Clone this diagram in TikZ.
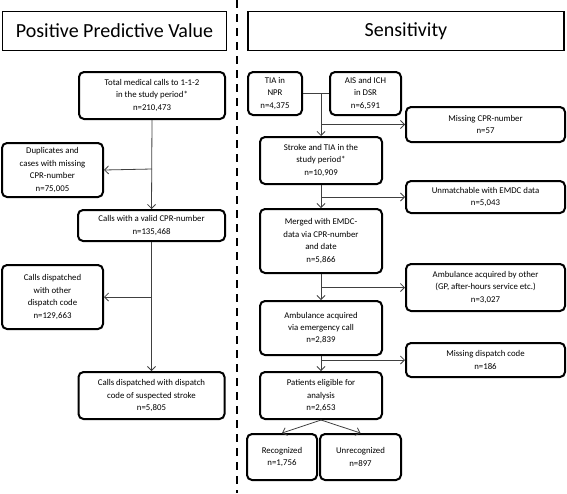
\documentclass[tikz,border=0pt]{standalone}
\usepackage{fontspec}
\setmainfont{Carlito}
\usetikzlibrary{arrows.meta}
\begin{document}
\begin{tikzpicture}[x=1pt,y=-1pt,
  box/.style={draw=black, line width=2pt, rounded corners=5pt, align=center,
    inner sep=0pt, font=\fontsize{8.8}{12.4}\selectfont},
  head/.style={draw=black, line width=1.6pt, inner sep=0pt, font=\fontsize{20}{22}\selectfont},
  conn/.style={draw=black!75, line width=0.8pt},
  arr/.style={conn, -{Straight Barb[length=4pt,width=8pt,line width=0.8pt]}}
]
\useasboundingbox (0,0) rectangle (567,493);
% dashed divider
\draw[line width=2.2pt, dash pattern=on 8pt off 6pt] (237,0) -- (237,493);
% headers
\node[head, minimum width=224pt, minimum height=39pt] (hppv) at (114.5,31) {Positive Predictive Value};
\node[head, minimum width=316pt, minimum height=39pt] (hsens) at (406,31) {Sensitivity};

% left column
\node[box, minimum width=146pt, minimum height=47pt] (total) at (152,95.5) {Total medical calls to 1-1-2\\in the study period*\\n=210,473};
\node[box, minimum width=101pt, minimum height=54pt] (dup) at (52.5,170) {Duplicates and\\cases with missing\\CPR-number\\n=75,005};
\node[box, minimum width=147pt, minimum height=31pt] (valid) at (151.5,225.5) {Calls with a valid CPR-number\\n=135,468};
\node[box, minimum width=101pt, minimum height=64pt] (other) at (52.5,297) {Calls dispatched\\with other\\dispatch code\\n=129,663};
\node[box, minimum width=146pt, minimum height=47pt] (final) at (151.5,395.5) {Calls dispatched with dispatch\\code of suspected stroke\\n=5,805};

\coordinate (l1) at (152,169);
\coordinate (l2) at (152,297);
\draw[arr] (total.south) -- (valid.north);
\draw[arr] (l1) -- (dup.east);
\draw[arr] (valid.south) -- (final.north);
\draw[arr] (l2) -- (other.east);

% right column
\node[box, minimum width=54pt, minimum height=43pt] (tia) at (275,93.5) {TIA in\\NPR\\n=4,375};
\node[box, minimum width=71pt, minimum height=43pt] (ais) at (365.5,93.5) {AIS and ICH\\in DSR\\n=6,591};
\node[box, minimum width=159pt, minimum height=35pt] (miss) at (485.5,124.5) {Missing CPR-number\\n=57};
\node[box, minimum width=122pt, minimum height=47pt] (stroke) at (321,160.5) {Stroke and TIA in the\\study period*\\n=10,909};
\node[box, minimum width=159pt, minimum height=32pt] (unm) at (485.5,197) {Unmatchable with EMDC data\\n=5,043};
\node[box, minimum width=122pt, minimum height=64pt] (merged) at (321,241) {Merged with EMDC-\\data via CPR-number\\and date\\n=5,866};
\node[box, minimum width=159pt, minimum height=47pt] (ambo) at (485.5,287.5) {Ambulance acquired by other\\(GP, after-hours service etc.)\\n=3,027};
\node[box, minimum width=122pt, minimum height=54pt] (ambe) at (321,328) {Ambulance acquired\\via emergency call\\n=2,839};
\node[box, minimum width=159pt, minimum height=34pt] (mdc) at (485.5,360) {Missing dispatch code\\n=186};
\node[box, minimum width=122pt, minimum height=47pt] (elig) at (321,395.5) {Patients eligible for\\analysis\\n=2,653};
\node[box, minimum width=70pt, minimum height=46pt] (rec) at (282,457) {Recognized\\n=1,756};
\node[box, minimum width=81pt, minimum height=46pt] (unrec) at (360.5,457) {Unrecognized\\n=897};

\coordinate (j0) at (321,93.5);
\coordinate (j1) at (321,124.5);
\coordinate (j2) at (321,197);
\coordinate (j3) at (321,287.5);
\coordinate (j4) at (321,360);
\draw[conn] (tia.east) -- (ais.west);
\draw[arr] (j0) -- (stroke.north);
\draw[arr] (j1) -- (miss.west);
\draw[arr] (stroke.south) -- (merged.north);
\draw[arr] (j2) -- (unm.west);
\draw[arr] (merged.south) -- (ambe.north);
\draw[arr] (j3) -- (ambo.west);
\draw[arr] (ambe.south) -- (elig.north);
\draw[arr] (j4) -- (mdc.west);
\draw[arr] (elig.south) -- (rec.north);
\draw[arr] (elig.south) -- (unrec.north);
\end{tikzpicture}
\end{document}
